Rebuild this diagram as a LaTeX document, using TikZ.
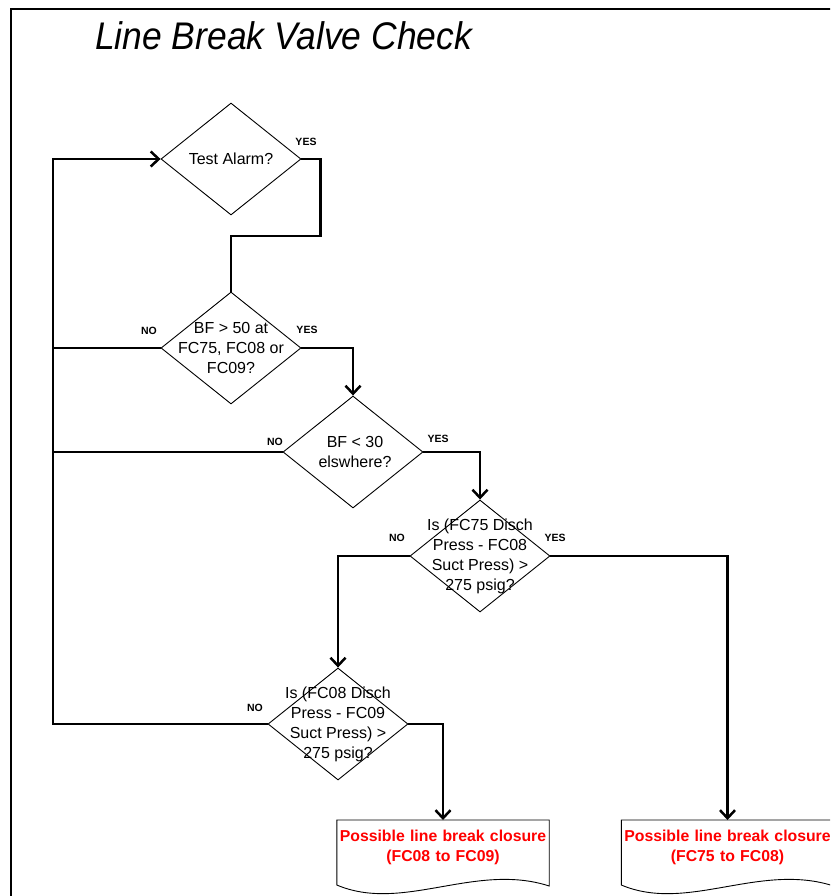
\documentclass[tikz,border=0pt]{standalone}
\usepackage{fontspec}
\usepackage{graphicx}
\setmainfont{Liberation Sans}
\usetikzlibrary{arrows.meta,shapes.geometric,calc}
\begin{document}
\begin{tikzpicture}[x=1pt,y=-1pt,
  dec/.style={draw,shape=diamond,minimum width=140pt,minimum height=112pt,inner sep=0pt,line width=0.9pt},
  dtext/.style={align=center,font=\fontsize{16}{20}\selectfont,inner sep=0pt},
  conn/.style={line width=2.5pt},
  arr/.style={conn,-{Straight Barb[length=8pt,width=15pt]}},
  lbl/.style={font=\fontsize{10.5}{12}\selectfont\bfseries,inner sep=0pt},
  docbox/.style={anchor=north,text width=212pt,align=center,inner xsep=0pt,inner ysep=10pt,
    font=\fontsize{15.8}{20}\selectfont\bfseries,text=red},
  docline/.style={line width=0.9pt}]
\clip (0,0) rectangle (830,896);
\fill[white] (0,0) rectangle (830,896);
% frame
\draw[line width=2.6pt] (11,9) rectangle (860,930);
% title
\node[anchor=base west,inner sep=0pt] (title) at (95,50)
  {\fontsize{38.5}{40}\selectfont\itshape\scalebox{0.92}[1]{Line Break Valve Check}};
% decisions
\node[dec] (d1) at (231,159) {};
\node[dec] (d2) at (231,348) {};
\node[dec] (d3) at (353,452) {};
\node[dec] (d4) at (480,556) {};
\node[dec] (d5) at (338,724) {};
\node[dtext] (t1) at (d1) {Test Alarm?};
\node[dtext] (t2) at (d2) {BF > 50 at\\FC75, FC08 or\\FC09?};
\node[dtext] (t3) at (355,452) {BF < 30\\elswhere?};
\node[dtext] (t4) at (d4) {Is (FC75 Disch\\Press - FC08\\Suct Press) >\\275 psig?};
\node[dtext] (t5) at (d5) {Is (FC08 Disch\\Press - FC09\\Suct Press) >\\275 psig?};
% documents
\node[docbox] (doc1) at (443,820) {Possible line break closure\\(FC08 to FC09)};
\node[docbox] (doc2) at (727.5,820) {Possible line break closure\\(FC75 to FC08)};
\foreach \d in {doc1,doc2}{
  \draw[docline] (\d.north west) -- (\d.north east) -- ($(\d.north east)+(0,66)$)
    .. controls ($(\d.north east)+(-74,42)$) and ($(\d.north west)+(66,93)$) .. ($(\d.north west)+(0,65)$) -- cycle;
}
% loop coordinates
\coordinate (loopTop) at (53,159);
\coordinate (loopBot) at (53,724);
% connectors
\draw[conn] (d1.east) -- ++(19,0) -- ++(0,77) -| (d2.north);
\draw[conn] (d2.west) -- (d2.west -| loopTop);
\draw[arr] (d2.east) -| (d3.north);
\draw[conn] (d3.west) -- (d3.west -| loopTop);
\draw[arr] (d3.east) -| (d4.north);
\draw[arr] (d4.west) -| (d5.north);
\draw[arr] (d4.east) -| (doc2.north);
\draw[arr] (d5.east) -| (doc1.north);
\draw[arr] (d5.west) -- (loopBot) -- (loopTop) -- (d1.west);
% labels
\node[lbl] (yes1) at (306,142) {YES};
\node[lbl] (no2) at (149,331) {NO};
\node[lbl] (yes2) at (307,330) {YES};
\node[lbl] (no3) at (275,442) {NO};
\node[lbl] (yes3) at (438,439) {YES};
\node[lbl] (no4) at (397,538) {NO};
\node[lbl] (yes4) at (555,538) {YES};
\node[lbl] (no5) at (255,708) {NO};
\end{tikzpicture}
\end{document}
